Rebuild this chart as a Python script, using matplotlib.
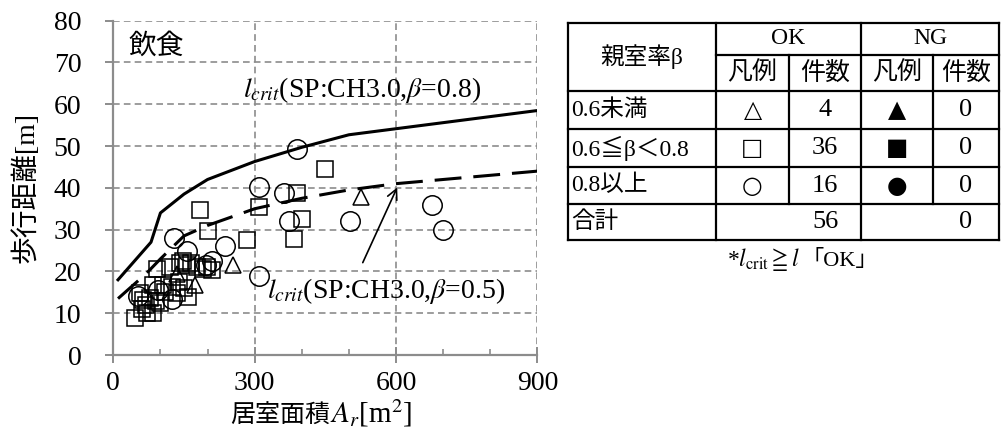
import numpy as np
import matplotlib
matplotlib.use('Agg')
import matplotlib.pyplot as plt

plt.rcParams['mathtext.fontset'] = 'stix'
SERIF = ['Liberation Serif', 'Noto Sans CJK JP', 'DejaVu Sans']
CJK = ['Noto Sans CJK JP', 'DejaVu Sans']
SYM = ['DejaVu Sans']
plt.rcParams['font.family'] = SERIF

# 臨界歩行距離曲線 (SP:CH3.0)
crit08_x = [10, 80, 100, 150, 200, 300, 400, 500, 900]
crit08_y = [18.0, 27.0, 34.0, 38.5, 42.0, 46.3, 49.7, 52.7, 58.5]
crit05_x = [10, 70, 100, 150, 200, 300, 400, 500, 600, 900]
crit05_y = [13.5, 19.5, 23.0, 28.5, 31.0, 35.0, 37.5, 39.5, 41.0, 44.0]

# 親室率 0.6未満 (△)
tri_x = [526, 255, 173, 135]
tri_y = [37.9, 21.5, 16.7, 19.5]
# 0.6≦β<0.8 (□)
sq_x = [450, 389, 310, 400, 384, 183, 200, 283, 92, 120, 142, 157, 177, 198,
        209, 85, 106, 124, 159, 135, 46, 71, 85, 64, 78, 57, 70, 90, 110, 147,
        165, 190, 140, 100, 60, 150]
sq_y = [44.4, 38.8, 35.3, 32.5, 27.7, 34.7, 29.7, 27.5, 20.5, 21.0, 22.0, 21.5,
        21.0, 21.0, 20.3, 16.7, 16.7, 16.2, 14.0, 14.8, 8.8, 10.0, 10.0, 13.2,
        13.6, 14.8, 12.0, 13.0, 15.0, 22.5, 22.0, 20.5, 17.5, 12.5, 11.0, 16.0]
# 0.8以上 (○)
circ_x = [389, 310, 362, 372, 502, 676, 700, 310, 128, 157, 237, 209, 197,
          125, 52, 95]
circ_y = [49.4, 40.3, 38.8, 32.1, 32.0, 36.0, 30.0, 19.0, 28.0, 25.0, 26.0,
          22.5, 21.5, 13.5, 14.2, 15.5]

# 表
row_labels = ['0.6未満', '0.6≦β＜0.8', '0.8以上', '合計']
ok_marks = ['△', '□', '○']
ng_marks = ['▲', '■', '●']
ok_counts = [len(tri_x), len(sq_x), len(circ_x)]
ng_counts = [0, 0, 0]

fig = plt.figure(figsize=(10.01, 4.47), dpi=100)
ax = fig.add_axes([0.1132, 0.2058, 0.4236, 0.7479])

ax.plot(crit08_x, crit08_y, 'k-', lw=2.2, zorder=3)
ax.plot(crit05_x, crit05_y, 'k-', lw=2.2, dashes=(8.8, 3.9), zorder=3)
mk = dict(ls='none', mfc='none', mec='k', mew=1.1, zorder=4)
ax.plot(sq_x, sq_y, 's', ms=11, **mk)
ax.plot(circ_x, circ_y, 'o', ms=14, **mk)
ax.plot(tri_x, tri_y, '^', ms=11, **mk)

ax.set_xlim(0, 900)
ax.set_ylim(0, 80)
ax.set_xticks([0, 300, 600, 900])
ax.set_xticks([100, 200, 400, 500, 700, 800], minor=True)
ax.set_yticks(np.arange(0, 81, 10))
ax.grid(True, which='major', color='#8c8c8c', ls=(0, (4, 2.5)), lw=1.2)
for s in ['top', 'right']:
    ax.spines[s].set_visible(False)
for s in ['left', 'bottom']:
    ax.spines[s].set_color('#8c8c8c')
    ax.spines[s].set_linewidth(1.6)
ax.tick_params(axis='x', which='major', direction='inout', length=11,
               width=1.4, color='#8c8c8c', labelsize=20, pad=6)
ax.tick_params(axis='x', which='minor', direction='in', length=4,
               width=1.2, color='#8c8c8c')
ax.tick_params(axis='y', direction='out', length=6, width=1.4,
               color='#8c8c8c', labelsize=20, pad=17)

ax.text(33, 77.5, '飲食', family=CJK, fontsize=20, va='top', ha='left')
ax.text(275, 61.8, r'$l_{crit}$(SP:CH3.0,$\beta$=0.8)', fontsize=20,
        va='baseline', ha='left')
ax.text(326, 13.6, r'$l_{crit}$(SP:CH3.0,$\beta$=0.5)', fontsize=20,
        va='baseline', ha='left')
ax.annotate('', xy=(605, 40.7), xytext=(527, 21.5),
            arrowprops=dict(arrowstyle='->', color='k', lw=1.2,
                            mutation_scale=18))

# 軸ラベル
fig.text(0.026, 0.58, '歩行距離[m]', family=SERIF, fontsize=20,
         rotation=90, ha='center', va='center')
fig.text(0.330, 0.055, '居室面積', family=CJK, fontsize=18,
         ha='right', va='baseline')
fig.text(0.330, 0.055, r'$A_r$[m$^2$]', fontsize=21, ha='left',
         va='baseline')

# 表 (ピクセル座標)
tax = fig.add_axes([0, 0, 1, 1])
tax.set_xlim(0, 1001)
tax.set_ylim(447, 0)
tax.axis('off')
cx = [568, 716, 789, 861, 933, 999]
ry = [23, 55, 91, 129, 167, 204, 240]
lk = dict(color='k', lw=1.6, solid_capstyle='projecting')
for i, y in enumerate(ry):
    x0 = cx[1] if i == 1 else cx[0]
    tax.plot([x0, cx[-1]], [y, y], **lk)
for i, x in enumerate(cx):
    if i in (2, 4):
        tax.plot([x, x], [ry[1], ry[5]], **lk)
    else:
        tax.plot([x, x], [ry[0], ry[-1]], **lk)


def cell(x, y, s, ha='center', fs=17, fam=SERIF):
    tax.text(x, y, s, family=fam, fontsize=fs, ha=ha, va='center')


cell((cx[0] + cx[1]) / 2, (ry[0] + ry[2]) / 2, '親室率β', fs=17)
cell((cx[1] + cx[3]) / 2, (ry[0] + ry[1]) / 2, 'OK', fs=17)
cell((cx[3] + cx[5]) / 2, (ry[0] + ry[1]) / 2, 'NG', fs=17)
for j, s in enumerate(['凡例', '件数', '凡例', '件数']):
    cell((cx[j + 1] + cx[j + 2]) / 2, (ry[1] + ry[2]) / 2, s, fs=18)
for i in range(3):
    yc = (ry[i + 2] + ry[i + 3]) / 2
    cell(cx[0] + 3, yc, row_labels[i], ha='left', fs=17)
    cell((cx[1] + cx[2]) / 2, yc, ok_marks[i], fs=17, fam=SYM)
    cell((cx[2] + cx[3]) / 2, yc, str(ok_counts[i]), fs=19)
    cell((cx[3] + cx[4]) / 2, yc, ng_marks[i], fs=17, fam=SYM)
    cell((cx[4] + cx[5]) / 2, yc, str(ng_counts[i]), fs=19)
yc = (ry[5] + ry[6]) / 2
cell(cx[0] + 3, yc, row_labels[3], ha='left', fs=17)
cell((cx[2] + cx[3]) / 2, yc, str(sum(ok_counts)), fs=19)
cell((cx[4] + cx[5]) / 2, yc, str(sum(ng_counts)), fs=19)

tax.text(800, 266, r'*$l_{\rm crit}\geqq l$', fontsize=17, ha='right',
         va='baseline')
tax.text(802, 266, '「OK」', family=SERIF, fontsize=16, ha='left',
         va='baseline')

fig.savefig('out.png', dpi=100)
